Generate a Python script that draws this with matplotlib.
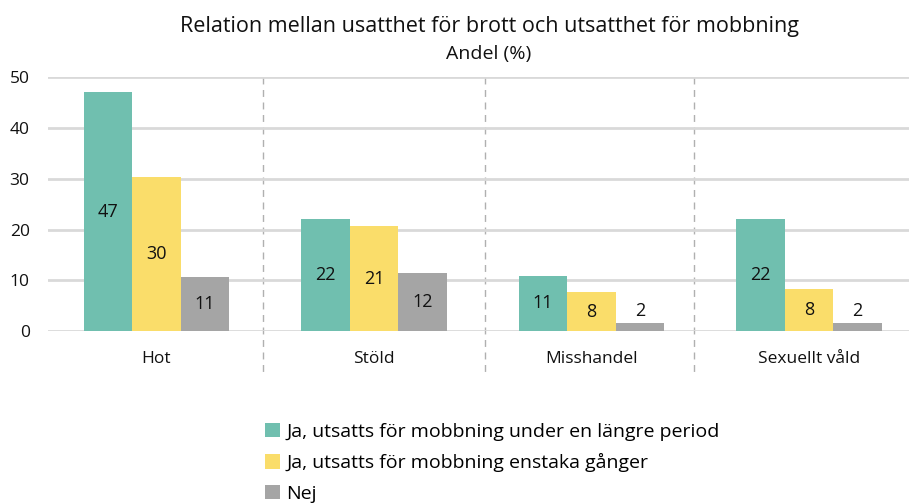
import matplotlib.pyplot as plt
import numpy as np

plt.rcParams["font.family"] = ["Open Sans", "DejaVu Sans"]

# data
categories = ["Hot", "Stöld", "Misshandel", "Sexuellt våld"]
series_names = [
    "Ja, utsatts för mobbning under en längre period",
    "Ja, utsatts för mobbning enstaka gånger",
    "Nej",
]
long_period = [47.0, 22.1, 10.9, 22.1]
few_times = [30.3, 20.6, 7.7, 8.3]
no_bullying = [10.7, 11.5, 1.6, 1.6]
label_texts = [
    ["47", "22", "11", "22"],
    ["30", "21", "8", "8"],
    ["11", "12", "2", "2"],
]
colors = ["#70BFAF", "#FADD6A", "#A5A5A5"]

fig = plt.figure(figsize=(9.09, 5.04), dpi=100)
# axes runs a little past the right edge, as in the original
ax = fig.add_axes([0.0525, 0.343, 0.957, 0.504])

x = np.arange(len(categories))
w = 0.223
series = [long_period, few_times, no_bullying]

for i, vals in enumerate(series):
    bars = ax.bar(x + (i - 1) * w, vals, w, color=colors[i], label=series_names[i],
                  zorder=3)
    for b, v, t in zip(bars, vals, label_texts[i]):
        cx = b.get_x() + b.get_width() / 2
        if v < 4:
            ax.text(cx, v + 0.6, t, ha="center", va="bottom", fontsize=13,
                    color="#111111", zorder=4)
        else:
            ax.text(cx, v / 2, t, ha="center", va="center", fontsize=13,
                    color="#111111", zorder=4)

ax.set_xlim(-0.5, len(categories) - 0.5)
ax.set_ylim(0, 50)
ax.set_yticks([0, 10, 20, 30, 40, 50])
ax.set_xticks(x)
ax.set_xticklabels(categories, fontsize=12.5)
ax.tick_params(axis="both", length=0, labelsize=12.5, colors="#111111")
ax.tick_params(axis="x", pad=14)
ax.tick_params(axis="y", pad=13)
ax.grid(axis="y", color="#D9D9D9", linewidth=2, zorder=0)
for s in ax.spines.values():
    s.set_visible(False)

# dashed separators between categories
for sep in [0.49, 1.51, 2.47]:
    ax.plot([sep, sep], [50, -8.7], color="#B0B0B0", linewidth=1,
            linestyle=(0, (5, 4)), clip_on=False, zorder=1)

fig.text(0.538, 0.948, "Relation mellan usatthet för brott och utsatthet för mobbning",
         ha="center", va="center", fontsize=15.5, color="#111111")
fig.text(0.5375, 0.893, "Andel (%)", ha="center", va="center", fontsize=14,
         color="#111111")

leg = fig.legend(loc="upper left", bbox_to_anchor=(0.283, 0.176), frameon=False,
                 fontsize=14, handlelength=0.75, handleheight=0.75,
                 handletextpad=0.35, labelspacing=0.63, borderaxespad=0)

fig.savefig("out.png", dpi=100, facecolor="white")
